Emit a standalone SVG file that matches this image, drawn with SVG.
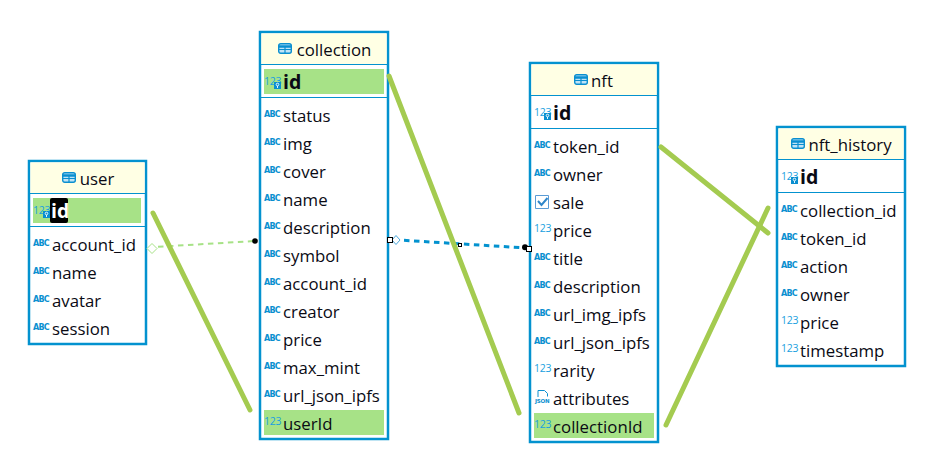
<svg xmlns="http://www.w3.org/2000/svg" width="933" height="465" viewBox="0 0 933 465">
<style>
.box{fill:#fff;stroke:#0392cf;stroke-width:2.5}
.head{fill:#ffffe4}
.sep{stroke:#0392cf;stroke-width:1;fill:none}
.hl{fill:#a7e287}
.t{font-family:"Open Sans","Noto Sans",sans-serif;font-size:16.8px;fill:#0a0a14}
.b{font-weight:700;font-size:19.5px}
.c{text-anchor:middle}
.abc{font-family:"DejaVu Sans",sans-serif;font-size:8px;font-weight:700;fill:#0a8fd0;letter-spacing:-.75px}
.num{font-family:"Open Sans",sans-serif;font-size:10.5px;fill:#1a9fe0;letter-spacing:-.2px}
.json{font-family:"DejaVu Sans",sans-serif;font-size:5.5px;font-weight:700;fill:#0a8fd0;letter-spacing:-.2px}
.key{fill:#0a8fd0}
.ti{fill:#bfe3f6;stroke:#0a8fd0;stroke-width:1.4}
.big{stroke:#a4cb50;stroke-width:5;stroke-linecap:round;fill:none}
.h{fill:#fff;stroke:#000;stroke-width:1}
</style>
<defs>
<g id="tbl"><rect x=".7" y=".7" width="12.600" height="9.600" rx="2" class="ti"/><path d="M.7 3.500h12.600" stroke="#0a8fd0" stroke-width="2.500"/><path d="M.7 6.500h12.600M7 4v6" stroke="#0a8fd0" stroke-width="1.200"/></g>
<g id="keyi"><rect x="9" y="6" width="7" height="7" class="key"/><circle cx="12.500" cy="8.500" r="1.300" fill="none" stroke="#fff" stroke-width=".9"/><path d="M12.500 10v2" stroke="#fff" stroke-width=".9"/></g>
</defs>

<g id="user">
<rect class="box" x="29" y="161" width="117" height="183"/>
<rect class="head" x="30.500" y="162.500" width="114" height="30.500"/>
<path class="sep" d="M29 193.500H146M29 226.500H146"/>
<rect class="hl" x="33" y="198" width="108" height="25"/>
<use href="#tbl" x="62" y="172"/>
<text class="t c" x="97" y="185">user</text>
<text class="num" x="33" y="214">123</text><use href="#keyi" x="34" y="205"/>
<rect x="50" y="198" width="18" height="25" rx="2" fill="#000"/>
<text class="t b" x="51" y="218" style="fill:#fff">id</text>
<text class="abc" x="33" y="246">ABC</text><text class="t" x="52" y="251">account_id</text>
<text class="abc" x="33" y="274">ABC</text><text class="t" x="52" y="279">name</text>
<text class="abc" x="33" y="302">ABC</text><text class="t" x="52" y="307">avatar</text>
<text class="abc" x="33" y="330">ABC</text><text class="t" x="52" y="335">session</text>
</g>

<g id="collection">
<rect class="box" x="260" y="32" width="128" height="407"/>
<rect class="head" x="261.500" y="33.500" width="125" height="30.500"/>
<path class="sep" d="M260 64.500H388M260 97.500H388"/>
<rect class="hl" x="264" y="69" width="120" height="25"/>
<rect class="hl" x="264" y="410" width="120" height="25"/>
<use href="#tbl" x="278" y="43"/>
<text class="t c" x="334" y="56">collection</text>
<text class="num" x="264" y="85">123</text><use href="#keyi" x="265" y="76"/>
<text class="t b" x="283" y="89">id</text>
<text class="abc" x="264" y="117">ABC</text><text class="t" x="283" y="122">status</text>
<text class="abc" x="264" y="145">ABC</text><text class="t" x="283" y="150">img</text>
<text class="abc" x="264" y="173">ABC</text><text class="t" x="283" y="178">cover</text>
<text class="abc" x="264" y="201">ABC</text><text class="t" x="283" y="206">name</text>
<text class="abc" x="264" y="229">ABC</text><text class="t" x="283" y="234">description</text>
<text class="abc" x="264" y="257">ABC</text><text class="t" x="283" y="262">symbol</text>
<text class="abc" x="264" y="285">ABC</text><text class="t" x="283" y="290">account_id</text>
<text class="abc" x="264" y="313">ABC</text><text class="t" x="283" y="318">creator</text>
<text class="abc" x="264" y="341">ABC</text><text class="t" x="283" y="346">price</text>
<text class="abc" x="264" y="369">ABC</text><text class="t" x="283" y="374">max_mint</text>
<text class="abc" x="264" y="397">ABC</text><text class="t" x="283" y="402">url_json_ipfs</text>
<text class="num" x="264" y="425">123</text><text class="t" x="283" y="430">userId</text>
</g>

<g id="nft">
<rect class="box" x="530" y="63" width="128" height="379"/>
<rect class="head" x="531.500" y="64.500" width="125" height="30.500"/>
<path class="sep" d="M530 95.500H658M530 128.500H658"/>
<rect class="hl" x="534" y="413" width="120" height="25"/>
<use href="#tbl" x="574" y="74"/>
<text class="t c" x="602" y="87">nft</text>
<text class="num" x="534" y="116">123</text><use href="#keyi" x="535" y="107"/>
<text class="t b" x="553" y="120">id</text>
<text class="abc" x="534" y="148">ABC</text><text class="t" x="553" y="153">token_id</text>
<text class="abc" x="534" y="176">ABC</text><text class="t" x="553" y="181">owner</text>
<path d="M535.500 195.500h13v13h-13z" fill="none" stroke="#5a9bd5"/><path d="M538 201l3.500 4 6-7" fill="none" stroke="#2f86c9" stroke-width="2"/>
<text class="t" x="553" y="209">sale</text>
<text class="num" x="534" y="232">123</text><text class="t" x="553" y="237">price</text>
<text class="abc" x="534" y="260">ABC</text><text class="t" x="553" y="265">title</text>
<text class="abc" x="534" y="288">ABC</text><text class="t" x="553" y="293">description</text>
<text class="abc" x="534" y="316">ABC</text><text class="t" x="553" y="321">url_img_ipfs</text>
<text class="abc" x="534" y="344">ABC</text><text class="t" x="553" y="349">url_json_ipfs</text>
<text class="num" x="534" y="372">123</text><text class="t" x="553" y="377">rarity</text>
<path d="M538 397v-6.500h6.500l3 3v3" fill="none" stroke="#0a8fd0"/><text class="json" x="535" y="403">JSON</text>
<text class="t" x="553" y="405">attributes</text>
<text class="num" x="534" y="428">123</text><text class="t" x="553" y="433">collectionId</text>
</g>

<g id="nft_history">
<rect class="box" x="777" y="127" width="128" height="239"/>
<rect class="head" x="778.500" y="128.500" width="125" height="30.500"/>
<path class="sep" d="M777 159.500H905M777 192.500H905"/>
<use href="#tbl" x="791" y="138"/>
<text class="t c" x="850" y="151">nft_history</text>
<text class="num" x="781" y="180">123</text><use href="#keyi" x="782" y="171"/>
<text class="t b" x="800" y="184">id</text>
<text class="abc" x="781" y="212">ABC</text><text class="t" x="800" y="217">collection_id</text>
<text class="abc" x="781" y="240">ABC</text><text class="t" x="800" y="245">token_id</text>
<text class="abc" x="781" y="268">ABC</text><text class="t" x="800" y="273">action</text>
<text class="abc" x="781" y="296">ABC</text><text class="t" x="800" y="301">owner</text>
<text class="num" x="781" y="324">123</text><text class="t" x="800" y="329">price</text>
<text class="num" x="781" y="352">123</text><text class="t" x="800" y="357">timestamp</text>
</g>

<g id="connectors">
<path d="M158 246.800L255 241" stroke="#a7e287" stroke-width="2" stroke-dasharray="5.500 4.500" fill="none"/>
<path d="M147 248.500l5-5 5 5-5 5z" fill="#fff" stroke="#a7e287"/>
<circle cx="255" cy="241" r="2.800" fill="#000"/>
<path d="M404 240.300L527 248" stroke="#0392cf" stroke-width="3" stroke-dasharray="5.500 4.500" fill="none"/>
<path d="M392 240l4-4.500 4 4.500-4 4.500z" fill="#fff" stroke="#4aa8dc"/>
<circle cx="525" cy="247.300" r="3" fill="#000"/>
<rect class="h" x="387.500" y="237.500" width="5" height="5"/>
<rect class="h" x="458.500" y="243.500" width="3" height="3"/>
<rect class="h" x="526.500" y="246.500" width="5" height="5"/>
<path class="big" d="M153 213L250 410"/>
<path class="big" d="M389 76L519 413"/>
<path class="big" d="M661 147L768 233"/>
<path class="big" d="M666 425L768 208"/>
</g>
</svg>
